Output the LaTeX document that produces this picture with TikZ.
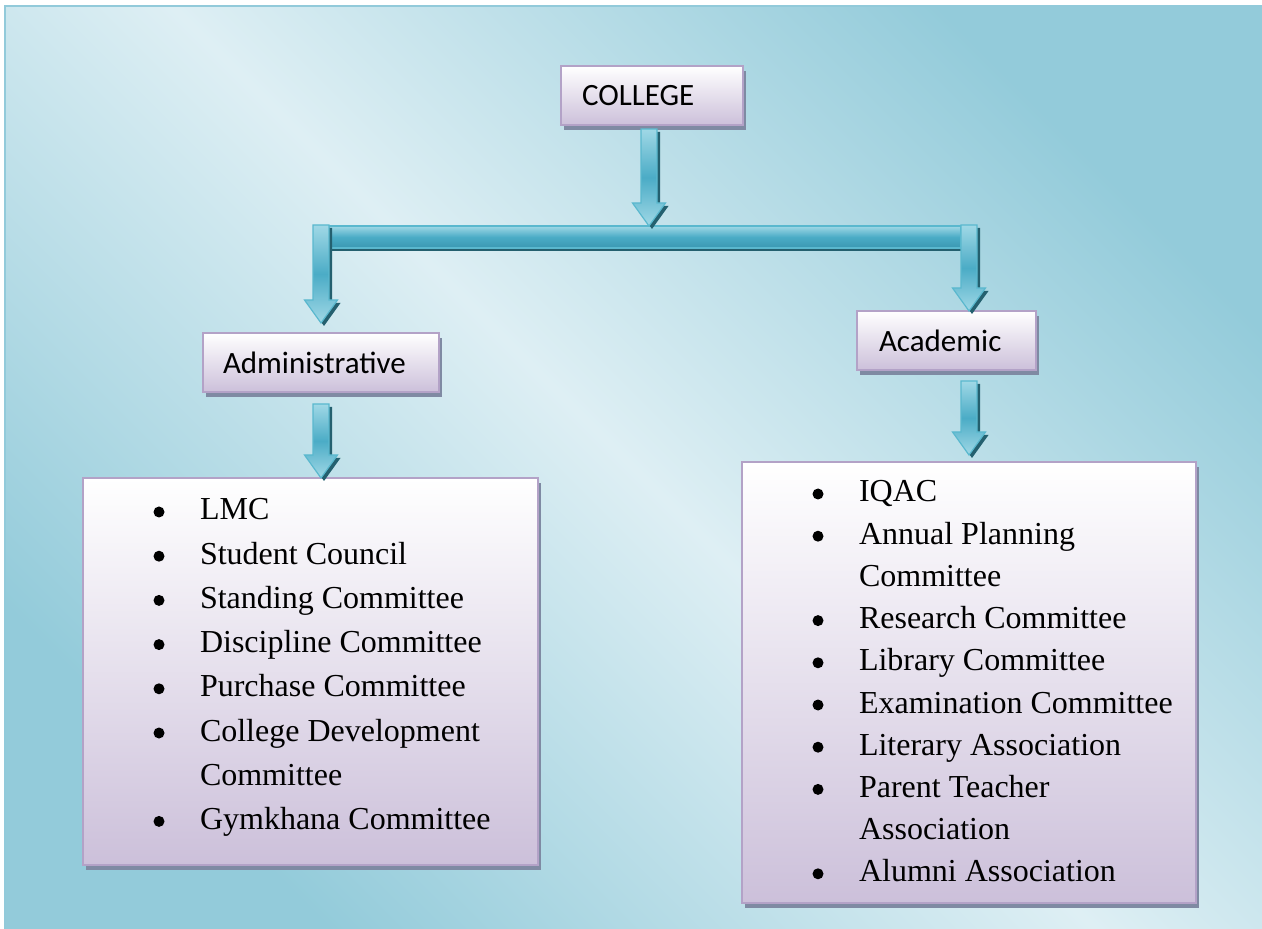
\documentclass[tikz,border=0pt]{standalone}
\usepackage{fontspec}
\newfontfamily\labelfont{Carlito}
\newfontfamily\listfont{Liberation Serif}
\usetikzlibrary{shadows,calc}
\definecolor{bgdark}{HTML}{93CBDA}
\definecolor{bglight}{HTML}{DEEFF4}
\definecolor{bgborder}{HTML}{92CADA}
\definecolor{boxline}{HTML}{B3A2C7}
\definecolor{boxbottom}{HTML}{CCC0DA}
\definecolor{boxshadow}{HTML}{7F8AA3}
\definecolor{arrline}{HTML}{5AB8CE}
\definecolor{arrlight}{HTML}{A0D8E6}
\definecolor{arrmid}{HTML}{4BACC6}
\definecolor{arrdark}{HTML}{3A98B2}
\definecolor{arrshadow}{HTML}{24606F}
\tikzset{
  boxsty/.style={draw=boxline, line width=1pt, top color=white, bottom color=boxbottom,
    outer sep=0pt, drop shadow={shadow xshift=1.5pt, shadow yshift=-2.5pt, fill=boxshadow, opacity=1}},
  lbl/.style={boxsty, anchor=north west, align=left, minimum height=29.5pt,
    font=\labelfont\fontsize{15.5}{18}\selectfont},
  listbox/.style={boxsty, anchor=north west, inner sep=0pt},
  itm/.style={anchor=base west, inner sep=0pt, outer sep=0pt, font=\listfont\fontsize{16}{19}\selectfont},
  bul/.style={circle, fill=black, inner sep=0pt, minimum size=5.5pt},
  arrsty/.style={draw=arrline, line width=0.6pt, top color=arrlight, bottom color=arrlight, middle color=arrmid,
    drop shadow={shadow xshift=1.5pt, shadow yshift=-1.5pt, fill=arrshadow, opacity=1}},
  barsty/.style={draw=arrline, line width=0.6pt, top color=arrlight, bottom color=arrdark, middle color=arrmid,
    drop shadow={shadow xshift=0pt, shadow yshift=-1.5pt, fill=arrshadow, opacity=1}},
}
\newcommand\DArrow[2]{%
  \path[arrsty] let \p1=(#1), \p2=(#2) in
    (\x1-4pt,\y1) -- (\x1+4pt,\y1) -- (\x1+4pt,\y2+11.5pt) -- (\x1+8.25pt,\y2+11.5pt)
    -- (\x1,\y2) -- (\x1-8.25pt,\y2+11.5pt) -- (\x1-4pt,\y2+11.5pt) -- cycle;
}
\newcommand\Item[5]{%
  \node[bul] (#1b) at (#2,#4-8) {};
  \node[itm] (#1) at (#3,#4) {#5};
}
\newcommand\Cont[4]{%
  \node[itm] (#1) at (#2,#3) {#4};
}
\begin{document}
\begin{tikzpicture}[x=0.5pt,y=-0.5pt]
\useasboundingbox (0,0) rectangle (1262,929);
\fill[white] (0,0) rectangle (1262,929);
\shade[left color=bgdark, right color=bgdark, middle color=bglight, shading angle=135] (5,6) rectangle (1262,929);
\draw[bgborder, line width=1pt] (5,929) -- (5,6) -- (1262,6);

% boxes
\node[lbl, minimum width=91pt, inner xsep=10.5pt, text width=70pt] (college) at (561,66) {COLLEGE};
\node[lbl, minimum width=118pt, inner xsep=10pt, text width=98pt] (admin) at (203,333) {Administrative};
\node[lbl, minimum width=89.5pt, inner xsep=11pt, text width=67.5pt] (academic) at (857,311) {Academic};
\node[listbox, minimum width=227.5pt, minimum height=193.5pt] (adminlist) at (83,478) {};
\node[listbox, minimum width=227pt, minimum height=220.5pt] (acadlist) at (742,462) {};

% connector bus
\coordinate (busL) at (321,225);
\coordinate (busR) at (969,225);
\coordinate (busC) at (649,226);
\path[barsty] ([xshift=4pt,yshift=-0.5pt]busL) rectangle ([xshift=-4pt,yshift=-11.5pt]busR);
\DArrow{busL}{[yshift=5pt]admin.north}
\DArrow{busR}{academic.north}
\DArrow{[xshift=-1.5pt,yshift=-2pt]college.south}{busC}
\DArrow{[yshift=-6pt]admin.south}{adminlist.north}
\coordinate (acadOut) at ([yshift=-5.5pt]acadlist.north |- academic.south);
\DArrow{acadOut}{[yshift=3.5pt]acadlist.north}

% administrative list
\Item{a1}{159}{200}{520}{LMC}
\Item{a2}{159}{200}{564.2}{Student Council}
\Item{a3}{159}{200}{608.4}{Standing Committee}
\Item{a4}{159}{200}{652.6}{Discipline Committee}
\Item{a5}{159}{200}{696.8}{Purchase Committee}
\Item{a6}{159}{200}{741}{College Development}
\Cont{a6c}{200}{785.2}{Committee}
\Item{a7}{159}{200}{829.4}{Gymkhana Committee}

% academic list
\Item{b1}{818}{859}{502}{IQAC}
\Item{b2}{818}{859}{544.2}{Annual Planning}
\Cont{b2c}{859}{586.4}{Committee}
\Item{b3}{818}{859}{628.6}{Research Committee}
\Item{b4}{818}{859}{670.8}{Library Committee}
\Item{b5}{818}{859}{713}{Examination Committee}
\Item{b6}{818}{859}{755.2}{Literary Association}
\Item{b7}{818}{859}{797.4}{Parent Teacher}
\Cont{b7c}{859}{839.6}{Association}
\Item{b8}{818}{859}{881.8}{Alumni Association}
\end{tikzpicture}
\end{document}
